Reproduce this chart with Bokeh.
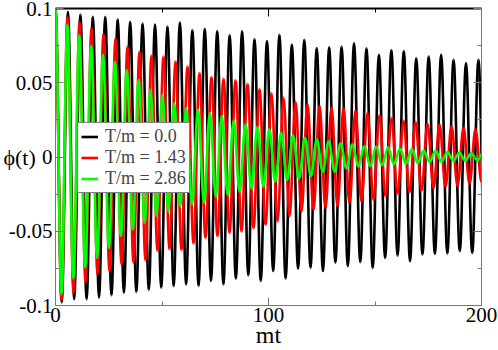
import numpy as np
from bokeh.plotting import figure
from bokeh.models import (ColumnDataSource, LinearAxis, FixedTicker, Range1d,
                          Legend, LegendItem, CustomJSTickFormatter, CustomLabelingPolicy)
from bokeh.embed import file_html
from bokeh.resources import INLINE

# ---------------- data ----------------
# oscillation periods (in units of mt) read from the peak spacing
period_black = 5.84
period_red = 5.634
period_green = 5.576

# successive maxima / minima of phi(t)
black_max = [0.1, 0.0977, 0.0959, 0.0944, 0.0944, 0.0928, 0.0910, 0.0899, 0.0892, 0.0879,
             0.0906, 0.0855, 0.0864, 0.0848, 0.0821, 0.0847, 0.0795, 0.0781, 0.0823, 0.0757,
             0.0790, 0.0734, 0.0738, 0.0743, 0.0765, 0.0732, 0.0688, 0.0721, 0.0714, 0.0665,
             0.0676, 0.0688, 0.0654, 0.0631, 0.0654]
black_min = [-0.0980, -0.0958, -0.0958, -0.0947, -0.0931, -0.0913, -0.0909, -0.0895, -0.0880,
             -0.0869, -0.0858, -0.0869, -0.0835, -0.0858, -0.0819, -0.0797, -0.0835, -0.0768,
             -0.0819, -0.0753, -0.0746, -0.0768, -0.0712, -0.0734, -0.0708, -0.0746, -0.0679,
             -0.0664, -0.0701, -0.0657, -0.0652, -0.0650, -0.0634, -0.0646, -0.0640]

red_max = [0.1, 0.0944, 0.0910, 0.0870, 0.0830, 0.0797, 0.0743, 0.0710, 0.0683, 0.0676,
           0.0643, 0.0609, 0.0565, 0.0539, 0.0526, 0.0516, 0.0492, 0.0456, 0.0429, 0.0399,
           0.0372, 0.0355, 0.0345, 0.0335, 0.0330, 0.0313, 0.0297, 0.0282, 0.0264, 0.0246,
           0.0237, 0.0223, 0.0219, 0.0208, 0.0197, 0.0186]
red_min = [-0.0967, -0.0917, -0.0847, -0.0792, -0.0772, -0.0722, -0.0712, -0.0697, -0.0632,
           -0.0622, -0.0627, -0.0582, -0.0545, -0.0534, -0.0512, -0.0501, -0.0479, -0.0456,
           -0.0434, -0.0400, -0.0367, -0.0356, -0.0344, -0.0333, -0.0311, -0.0300, -0.0289,
           -0.0266, -0.0249, -0.0239, -0.0226, -0.0210, -0.0199, -0.0195, -0.0182, -0.0167]

green_max = [0.1, 0.0892, 0.0822, 0.0750, 0.0688, 0.0643, 0.0587, 0.0520, 0.0455, 0.0420,
             0.0364, 0.0330, 0.0320, 0.0297, 0.0275, 0.0246, 0.0219, 0.0201, 0.0186, 0.0163,
             0.0146, 0.0130, 0.0119, 0.0108, 0.0093, 0.0086, 0.0074, 0.0070, 0.0063, 0.0056,
             0.0052, 0.0041, 0.0041, 0.0034, 0.0029, 0.0025, 0.0024]
green_min = [-0.0926, -0.0819, -0.0746, -0.0679, -0.0612, -0.0534, -0.0490, -0.0445, -0.0400,
             -0.0367, -0.0333, -0.0317, -0.0307, -0.0266, -0.0255, -0.0233, -0.0211, -0.0199,
             -0.0166, -0.0155, -0.0144, -0.0129, -0.0099, -0.0099, -0.0077, -0.0066, -0.0062,
             -0.0055, -0.0048, -0.0044, -0.0039, -0.0032, -0.0032, -0.0025, -0.0025, -0.0021]

labels = ["T/m = 0.0", "T/m = 1.43", "T/m = 2.86"]
colors = ["#000000", "#ff0000", "#00ff00"]

x_ticks = [0, 100, 200]
x_minor = [50, 150]
y_ticks = [-0.1, -0.05, 0, 0.05, 0.1]
y_minor = [-0.075, -0.025, 0.025, 0.075]


def extrema(maxima, minima, period):
    vals = []
    for i in range(len(maxima)):
        vals.append(maxima[i])
        if i < len(minima):
            vals.append(minima[i])
    t = [i * period / 2.0 for i in range(len(vals))]
    return np.array(t), np.array(vals)


def bezier_source(t, v, c=0.3634):
    dt = t[1:] - t[:-1]
    return ColumnDataSource(dict(
        x0=t[:-1], y0=v[:-1], x1=t[1:], y1=v[1:],
        cx0=t[:-1] + c * dt, cy0=v[:-1], cx1=t[1:] - c * dt, cy1=v[1:]))


FONT = "Liberation Serif"
GRAY = "#777777"

p = figure(width=498, height=350, x_range=Range1d(0, 200), y_range=Range1d(-0.1, 0.1),
           output_backend="svg", toolbar_location=None,
           min_border_left=55, min_border_right=17, min_border_top=8, min_border_bottom=44)
p.xgrid.visible = False
p.ygrid.visible = False
p.outline_line_color = None
p.background_fill_color = "white"
p.border_fill_color = "white"

xb = p.below[0]
yl = p.left[0]

series = [(black_max, black_min, period_black),
          (red_max, red_min, period_red),
          (green_max, green_min, period_green)]
renderers = []
for (mx, mn, per), col in zip(series, colors):
    t, v = extrema(mx, mn, per)
    src = bezier_source(t, v)
    r = p.bezier(x0="x0", y0="y0", x1="x1", y1="y1", cx0="cx0", cy0="cy0",
                 cx1="cx1", cy1="cy1", source=src, line_color=col, line_width=2.6)
    renderers.append(r)

# mirrored axes without labels
no_labels = CustomLabelingPolicy(code="for (const i of indices) indices.unset(i)")
above = LinearAxis(major_label_policy=no_labels, major_label_text_font_size="0px",
                   major_label_standoff=0)
right = LinearAxis(major_label_policy=no_labels, major_label_text_font_size="0px",
                   major_label_standoff=0)
p.add_layout(above, "above")
p.add_layout(right, "right")

fmt = CustomJSTickFormatter(code="return tick.toString();")
for ax in [xb, above]:
    ax.ticker = FixedTicker(ticks=x_ticks, minor_ticks=x_minor)
for ax in [yl, right]:
    ax.ticker = FixedTicker(ticks=y_ticks, minor_ticks=y_minor)

for ax in [xb, yl, above, right]:
    ax.major_tick_in = 8
    ax.major_tick_out = 0
    ax.minor_tick_in = 4
    ax.minor_tick_out = 0
    ax.axis_line_color = GRAY
    ax.major_tick_line_color = GRAY
    ax.minor_tick_line_color = GRAY

for ax in [xb, yl]:
    ax.formatter = fmt
    ax.major_label_text_font = FONT
    ax.major_label_text_font_size = "21px"
    ax.major_label_text_color = "black"
    ax.axis_label_text_font = FONT
    ax.axis_label_text_font_style = "normal"
    ax.axis_label_text_color = "black"

above.axis_line_color = "black"
above.axis_line_width = 2
above.major_tick_line_color = "black"
above.minor_tick_line_color = "black"

xb.major_label_standoff = 2
xb.major_label_text_line_height = 1.0
xb.axis_label = "mt"
xb.axis_label_text_font_size = "24px"
xb.axis_label_text_line_height = 1.0
xb.axis_label_standoff = -3

yl.major_label_standoff = 3
yl.axis_label = "\u03d5(t)"
yl.axis_label_orientation = "horizontal"
yl.axis_label_text_font_size = "22px"
yl.axis_label_standoff = -30

legend = Legend(items=[LegendItem(label=l, renderers=[r]) for l, r in zip(labels, renderers)],
                location=(22, 112))
legend.border_line_color = "black"
legend.border_line_width = 1
legend.background_fill_color = "white"
legend.background_fill_alpha = 1
legend.label_text_font = FONT
legend.label_text_font_size = "18px"
legend.label_text_line_height = 1.0
legend.glyph_width = 17
legend.glyph_height = 17
legend.label_height = 17
legend.spacing = 0
legend.padding = 3
legend.margin = 0
legend.label_standoff = 7
p.add_layout(legend)

open("out.html", "w").write(file_html(p, INLINE))
